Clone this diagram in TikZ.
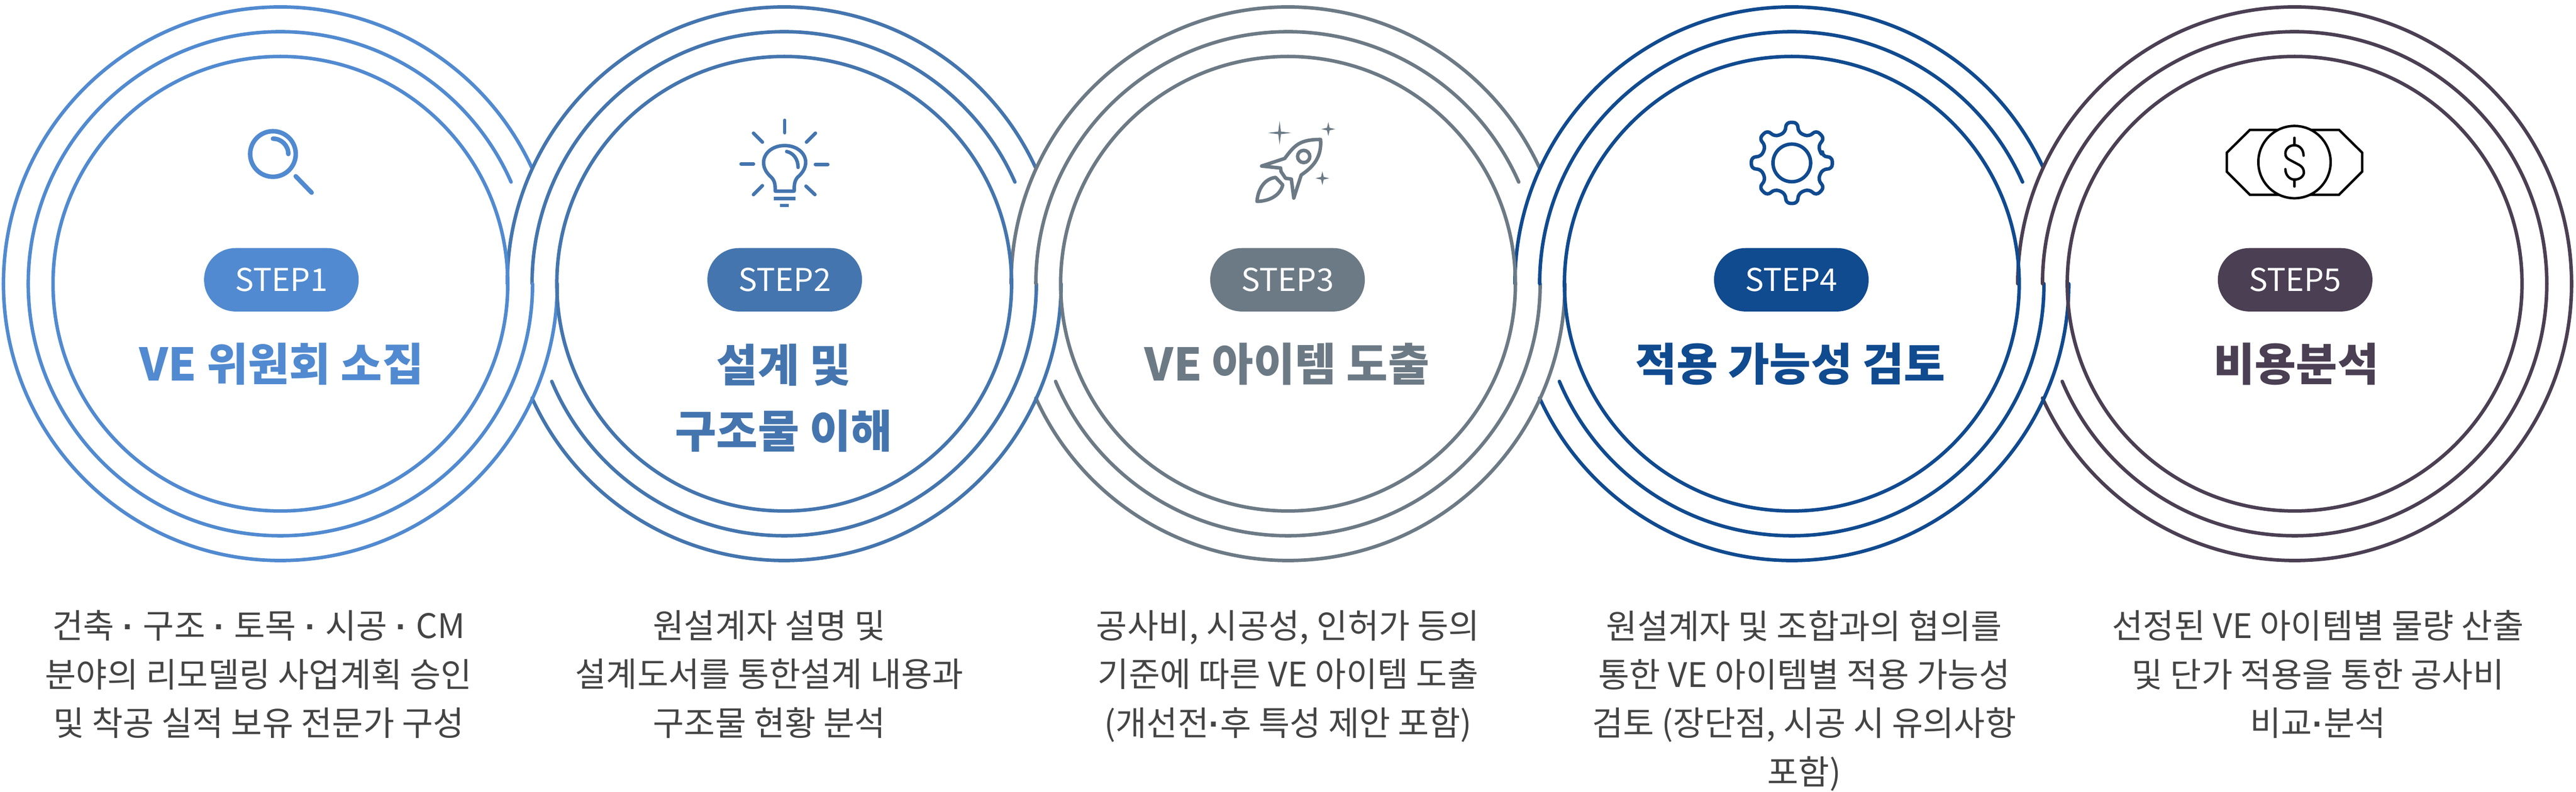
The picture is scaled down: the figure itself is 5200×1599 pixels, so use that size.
\documentclass[tikz,border=0pt]{standalone}
\usepackage{fontspec}
\setmainfont{Noto Sans CJK KR}
\newfontfamily\dotfont{Liberation Sans}
\newcommand{\tightdot}{{\dotfont\bfseries ·}}
\newcommand{\spreaddot}{\kern0.7pt\tightdot\kern0.7pt}
\definecolor{stepone}{HTML}{518AD0}
\definecolor{steptwo}{HTML}{4475AE}
\definecolor{stepthree}{HTML}{6C7A85}
\definecolor{stepfour}{HTML}{104A8F}
\definecolor{stepfive}{HTML}{4B3F53}
\definecolor{bodytext}{HTML}{444444}
\tikzset{
	ringline/.style={line width=2pt,line cap=round},
	iconline/.style={line width=2pt,line cap=round,line join=round},
	stepbadge/.style={fill=#1,text=white,rounded corners=18pt,minimum width=312*0.01cm,minimum height=128*0.01cm,inner sep=0pt,font=\fontsize{18}{22}\selectfont},
	steptitle/.style={text=#1,align=center,font=\bfseries\fontsize{25.8}{38}\selectfont},
	stepnote/.style={text=bodytext,align=center,anchor=north,inner sep=0pt,font=\fontsize{19.4}{27.9}\selectfont},
}
\begin{document}
\begin{tikzpicture}[x=0.01cm,y=0.01cm,yscale=-1]
	\useasboundingbox (0,0) rectangle (5200,1599);

	% outer rings, upper halves then lower halves
	\foreach \cx/\clr/\cut in {566/stepone/335.1,1583/steptwo/335.1,2600/stepthree/335.1,3617/stepfour/335.1,4632/stepfive/360}
		\draw[ringline,\clr] (\cx,573) ++(180:559) arc[start angle=180,end angle=\cut,radius=559];
	\foreach \cx/\clr/\cut in {4632/stepfive/155.6,3617/stepfour/155.6,2600/stepthree/155.6,1583/steptwo/155.6,566/stepone/180}
		\draw[ringline,\clr] (\cx,573) ++(0:559) arc[start angle=0,end angle=\cut,radius=559];

	% middle rings
	\foreach \cx/\clr/\cut in {566/stepone/336.2,1583/steptwo/336.2}
		\draw[ringline,\clr] (\cx,573) ++(180:509) arc[start angle=180,end angle=\cut,radius=509];
	\foreach \cx/\clr/\cut in {4632/stepfive/157.2,3617/stepfour/157.2,2600/stepthree/157.2,1583/steptwo/157.2,566/stepone/180}
		\draw[ringline,\clr] (\cx,573) ++(0:509) arc[start angle=0,end angle=\cut,radius=509];
	\foreach \cx/\clr/\cut in {2600/stepthree/336.2,3617/stepfour/336.2,4632/stepfive/360}
		\draw[ringline,\clr] (\cx,573) ++(180:509) arc[start angle=180,end angle=\cut,radius=509];

	% inner rings
	\foreach \cx/\clr in {4632/stepfive,3617/stepfour,2600/stepthree,1583/steptwo,566/stepone}
		\draw[ringline,\clr] (\cx,573) circle[radius=459];

	% badges
	\node[stepbadge=stepone] (badge1) at (568,565) {STEP1};
	\node[stepbadge=steptwo] (badge2) at (1584,565) {STEP2};
	\node[stepbadge=stepthree] (badge3) at (2599,565) {STEP3};
	\node[stepbadge=stepfour] (badge4) at (3616,565) {STEP4};
	\node[stepbadge=stepfive] (badge5) at (4633,565) {STEP5};

	% titles
	\node[steptitle=stepone] (title1) at (568,735) {VE 위원회 소집};
	\node[steptitle=steptwo] (title2) at (1582,804) {설계 및\\구조물 이해};
	\node[steptitle=stepthree] (title3) at (2598,735) {VE 아이템 도출};
	\node[steptitle=stepfour] (title4) at (3614,735) {적용 가능성 검토};
	\node[steptitle=stepfive] (title5) at (4635,735) {비용분석};

	% notes
	\node[stepnote] (note1) at (522,1232) {건축 \spreaddot{} 구조 \spreaddot{} 토목 \spreaddot{} 시공 \spreaddot{} CM\\분야의 리모델링 사업계획 승인\\및 착공 실적 보유 전문가 구성};
	\node[stepnote] (note2) at (1553,1232) {원설계자 설명 및\\설계도서를 통한설계 내용과\\구조물 현황 분석};
	\node[stepnote] (note3) at (2600,1232) {공사비, 시공성, 인허가 등의\\기준에 따른 VE 아이템 도출\\(개선전\tightdot{}후 특성 제안 포함)};
	\node[stepnote] (note4) at (3642,1232) {원설계자 및 조합과의 협의를\\통한 VE 아이템별 적용 가능성\\검토 (장단점, 시공 시 유의사항\\포함)};
	\node[stepnote] (note5) at (4679,1232) {선정된 VE 아이템별 물량 산출\\및 단가 적용을 통한 공사비\\비교\tightdot{}분석};

	% magnifier
	\draw[iconline,stepone,line width=2.6pt] (551,311) circle[radius=46];
	\draw[iconline,stepone,line width=2.6pt] (551,280) arc[start angle=270,end angle=360,radius=31];
	\draw[iconline,stepone,line width=2.6pt] (597,356) -- (629,389);

	% bulb
	\begin{scope}[iconline,steptwo]
		\foreach \xa/\ya/\xb/\yb in {1584/243/1584/268,1521/269/1539/287,1646/269/1628/287,1496/331/1521/331,1646/332/1671/332,1521/393/1539/375,1645/393/1627/376}
			\draw (\xa,\ya) -- (\xb,\yb);
		\draw (1557,358) .. controls (1525,330) and (1546,294) .. (1584,294) .. controls (1622,294) and (1643,330) .. (1610,358) .. controls (1604,365) and (1603,373) .. (1603,386) -- (1565,386) .. controls (1565,373) and (1564,365) .. (1557,358);
		\draw (1588,306) .. controls (1602,309) and (1611,322) .. (1611,338);
		\draw[line cap=butt] (1562,401) -- (1606,401);
		\draw[line cap=butt] (1575,415) -- (1592,415);
	\end{scope}

	% rocket
	\begin{scope}[shift={(2500,210)},scale=1/3,iconline,stepthree]
		\draw (497,215) .. controls (505,320) and (455,380) .. (380,430) -- (335,570) -- (320,455) -- (285,450) -- (258,410) -- (255,388) -- (140,376) -- (280,330) .. controls (340,250) and (370,215) .. (497,215) -- cycle;
		\draw (395,318) circle[radius=37];
		\draw (112,590) .. controls (120,500) and (170,450) .. (225,445) -- (268,490) .. controls (255,550) and (190,590) .. (112,590) -- cycle;
		\foreach \sx/\sy/\sr in {249/175/72,544/152/42,508/450/42}
			\fill (\sx-\sr,\sy) -- (\sx-8,\sy-8) -- (\sx,\sy-\sr) -- (\sx+8,\sy-8) -- (\sx+\sr,\sy) -- (\sx+8,\sy+8) -- (\sx,\sy+\sr) -- (\sx-8,\sy+8) -- cycle;
	\end{scope}

	% gear
	\begin{scope}[shift={(3617,329)},stepfour]
		\draw[iconline] (0,0) circle[radius=38];
		\draw[iconline,rounded corners=2.8pt] (-11.3:63) \foreach \k in {0,45,...,315} {-- (\k-11.3:63) -- (\k-8.6:82.7) -- (\k+8.6:82.7) -- (\k+11.3:63)} -- cycle;
	\end{scope}

	% money
	\begin{scope}[shift={(4450,220)},scale=1/3,iconline,line width=1.4pt,black]
		\draw[line cap=butt,line join=miter] (135,265) -- (275,127) -- (815,127) -- (955,265) -- (955,380) -- (815,520) -- (275,520) -- (135,380) -- cycle;
		\draw[fill=white] (545,322) circle[radius=219];
		\draw (545,175) -- (545,220);
		\draw (545,428) -- (545,470);
		\draw (600,283) .. controls (600,245) and (575,220) .. (545,220) .. controls (510,220) and (490,245) .. (490,270) .. controls (490,290) and (500,300) .. (515,308) -- (575,340) .. controls (592,350) and (602,365) .. (602,385) .. controls (602,405) and (580,428) .. (545,428) .. controls (515,428) and (490,400) .. (490,365);
	\end{scope}

\end{tikzpicture}
\end{document}
